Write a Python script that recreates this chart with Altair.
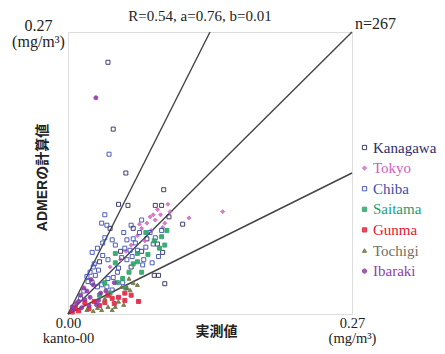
import altair as alt
import pandas as pd

prefectures = ["Kanagawa", "Tokyo", "Chiba", "Saitama", "Gunma", "Tochigi", "Ibaraki"]
stroke_colors = ["#2b2b63", "#d46cc4", "#3c4cb4", "#27a468", "#e4203c", "#6e7440", "#8c3aa4"]
fill_colors = ["transparent", "#d46cc4", "transparent", "#27a468", "#e4203c", "#6e7440", "#8c3aa4"]
shapes = ["square", "diamond", "square", "square", "square", "triangle-up", "circle"]
label_colors = ["#2d2d6b", "#d060c0", "#3b4eb0", "#20a070", "#e02030", "#707060", "#9040b0"]

kanagawa = [(0.038, 0.241), (0.043, 0.177), (0.055, 0.135), (0.091, 0.119), (0.048, 0.105),
            (0.057, 0.104), (0.083, 0.104), (0.089, 0.104), (0.096, 0.093), (0.109, 0.086),
            (0.062, 0.082), (0.082, 0.037), (0.086, 0.037), (0.092, 0.029), (0.085, 0.067),
            (0.090, 0.059), (0.040, 0.082), (0.075, 0.072), (0.070, 0.060), (0.050, 0.060),
            (0.030, 0.050), (0.060, 0.045)]
tokyo = [(0.075, 0.087), (0.081, 0.095), (0.092, 0.087), (0.085, 0.100), (0.078, 0.093),
         (0.088, 0.095), (0.070, 0.082), (0.097, 0.098), (0.115, 0.092), (0.147, 0.098),
         (0.066, 0.075), (0.060, 0.066), (0.090, 0.083), (0.073, 0.070), (0.083, 0.090),
         (0.095, 0.105), (0.055, 0.060), (0.068, 0.086), (0.050, 0.052), (0.079, 0.080),
         (0.040, 0.045)]
chiba = [(0.039, 0.153), (0.035, 0.095), (0.032, 0.087), (0.037, 0.085), (0.035, 0.073),
         (0.042, 0.071), (0.033, 0.068), (0.056, 0.071), (0.028, 0.063), (0.023, 0.059),
         (0.054, 0.063), (0.059, 0.061), (0.038, 0.052), (0.051, 0.054), (0.056, 0.052),
         (0.061, 0.055), (0.071, 0.047), (0.080, 0.049), (0.021, 0.040), (0.026, 0.037),
         (0.029, 0.042), (0.019, 0.031), (0.023, 0.030), (0.028, 0.026), (0.032, 0.028),
         (0.038, 0.034), (0.043, 0.035), (0.037, 0.026), (0.042, 0.023), (0.083, 0.073),
         (0.078, 0.078), (0.068, 0.078), (0.081, 0.067), (0.064, 0.068), (0.048, 0.044),
         (0.045, 0.066), (0.053, 0.078), (0.060, 0.085), (0.070, 0.090), (0.015, 0.022),
         (0.012, 0.015), (0.025, 0.048), (0.033, 0.056), (0.047, 0.040), (0.066, 0.061),
         (0.074, 0.064), (0.052, 0.030), (0.018, 0.036), (0.024, 0.045), (0.062, 0.072),
         (0.089, 0.080), (0.086, 0.055), (0.072, 0.052)]
saitama = [(0.089, 0.074), (0.066, 0.058), (0.087, 0.063), (0.045, 0.058), (0.045, 0.049),
           (0.066, 0.050), (0.047, 0.030), (0.092, 0.066), (0.076, 0.057), (0.058, 0.040),
           (0.040, 0.020), (0.070, 0.040), (0.052, 0.034), (0.082, 0.070), (0.062, 0.048),
           (0.035, 0.030), (0.074, 0.078), (0.030, 0.018), (0.055, 0.025), (0.094, 0.080)]
gunma = [(0.054, 0.020), (0.048, 0.016), (0.042, 0.015), (0.035, 0.011), (0.016, 0.011),
         (0.007, 0.006), (0.054, 0.013), (0.067, 0.012), (0.025, 0.012), (0.030, 0.008),
         (0.010, 0.003), (0.044, 0.010), (0.020, 0.005), (0.038, 0.018), (0.060, 0.018),
         (0.004, 0.002)]
tochigi = [(0.051, 0.026), (0.056, 0.025), (0.059, 0.023), (0.028, 0.006), (0.032, 0.004),
           (0.038, 0.007), (0.045, 0.007), (0.048, 0.012), (0.062, 0.030), (0.024, 0.003),
           (0.042, 0.004), (0.053, 0.009), (0.035, 0.015), (0.066, 0.028), (0.018, 0.004),
           (0.058, 0.034)]
ibaraki = [(0.0265, 0.207), (0.021, 0.016), (0.013, 0.006), (0.029, 0.013), (0.008, 0.010),
           (0.018, 0.022), (0.024, 0.028), (0.012, 0.018), (0.005, 0.004), (0.031, 0.020),
           (0.016, 0.014), (0.027, 0.009), (0.036, 0.022), (0.010, 0.012), (0.004, 0.007),
           (0.020, 0.008), (0.044, 0.030), (0.015, 0.025), (0.022, 0.033)]

series = [kanagawa, tokyo, chiba, saitama, gunma, tochigi, ibaraki]
axis_max = 0.27
slopes = [2.0, 1.0, 0.5]
stats_text = "R=0.54, a=0.76, b=0.01"
n_label = "n=267"

rows = []
for name, pts in zip(prefectures, series):
    for x, y in pts:
        rows.append({"pref": name, "obs": x, "calc": y})
df = pd.DataFrame(rows)

line_rows = []
for s in slopes:
    line_rows.append({"slope": s, "obs": 0.0, "calc": 0.0})
    line_rows.append({"slope": s, "obs": min(axis_max, axis_max / s), "calc": min(axis_max, axis_max * s)})
lines_df = pd.DataFrame(line_rows)

serif = "Liberation Serif"
sans = "Liberation Sans, Noto Sans CJK JP"

xs = alt.Scale(domain=[0, axis_max], nice=False)
ys = alt.Scale(domain=[0, axis_max], nice=False)

x_axis = alt.Axis(values=[0, axis_max], grid=False, ticks=False, domain=False,
                  labelExpr="datum.value < 0.1 ? ['0.00','kanto-00'] : ['0.27','(mg/m³)']",
                  labelFont=serif, labelFontSize=14.5, labelLineHeight=15, labelPadding=2,
                  labelColor="#222", labelBaseline="top", labelFlush=False,
                  title="実測値", titleFont="Noto Sans CJK JP", titleFontSize=14,
                  titleFontWeight="bold", titleColor="#222", titleX=148, titleY=17,
                  titleBaseline="middle", titleAnchor="start", titleAlign="center")
y_axis = alt.Axis(values=[axis_max], grid=False, ticks=False, domain=False,
                  labelExpr="['0.27','(mg/m³)']",
                  labelFont=serif, labelFontSize=16, labelLineHeight=16, labelPadding=30,
                  labelOffset=-7,
                  labelColor="#222", labelAlign="center", labelBaseline="middle", labelFlush=False,
                  title="ADMERの計算値", titleFont=sans, titleFontSize=14,
                  titleFontWeight="bold", titleColor="#222", titleX=-26, titleY=145,
                  titleAngle=-90, titleBaseline="middle", titleAlign="center", titleAnchor="start")

label_expr = " : ".join(
    f"datum.label == '{p}' ? '{c}'" for p, c in zip(prefectures, label_colors)
) + " : '#222'"

legend = alt.Legend(title=None, orient="none", legendX=289, legendY=108,
                    labelFont=serif, labelFontSize=15, labelColor=alt.ExprRef(expr=label_expr),
                    symbolSize=18, symbolStrokeWidth=1, rowPadding=4.6, labelOffset=1)

lines = alt.Chart(lines_df).mark_line(color="#444", strokeWidth=1.4).encode(
    x=alt.X("obs:Q", scale=xs, axis=x_axis),
    y=alt.Y("calc:Q", scale=ys, axis=y_axis),
    detail="slope:N",
)

points = alt.Chart(df).mark_point(size=16, strokeWidth=1, opacity=0.9).encode(
    x=alt.X("obs:Q", scale=xs),
    y=alt.Y("calc:Q", scale=ys),
    stroke=alt.Stroke("pref:N", scale=alt.Scale(domain=prefectures, range=stroke_colors), legend=legend),
    fill=alt.Fill("pref:N", scale=alt.Scale(domain=prefectures, range=fill_colors), legend=legend),
    shape=alt.Shape("pref:N", scale=alt.Scale(domain=prefectures, range=shapes), legend=legend),
)

n_df = pd.DataFrame([{"obs": axis_max, "calc": axis_max, "t": n_label}])
n_text = alt.Chart(n_df).mark_text(font=serif, fontSize=16, align="left", baseline="middle",
                                   dx=3, dy=-8, color="#222").encode(
    x=alt.X("obs:Q", scale=xs), y=alt.Y("calc:Q", scale=ys), text="t:N")

stats_df = pd.DataFrame([{"obs": axis_max / 2, "calc": axis_max, "t": stats_text}])
stats = alt.Chart(stats_df).mark_text(font=serif, fontSize=15, align="center", baseline="middle",
                                      dx=-10, dy=-16, color="#222").encode(
    x=alt.X("obs:Q", scale=xs), y=alt.Y("calc:Q", scale=ys), text="t:N")

chart = alt.layer(lines, points, n_text, stats).properties(
    width=284, height=282,
    padding={"left": 60, "top": 24, "right": 85, "bottom": 32},
    autosize=alt.AutoSizeParams(type="none"),
).configure_view(stroke="#444", strokeWidth=1.3).configure(background="white")

chart.save("out.html", embed_options={"renderer": "svg", "actions": False})
